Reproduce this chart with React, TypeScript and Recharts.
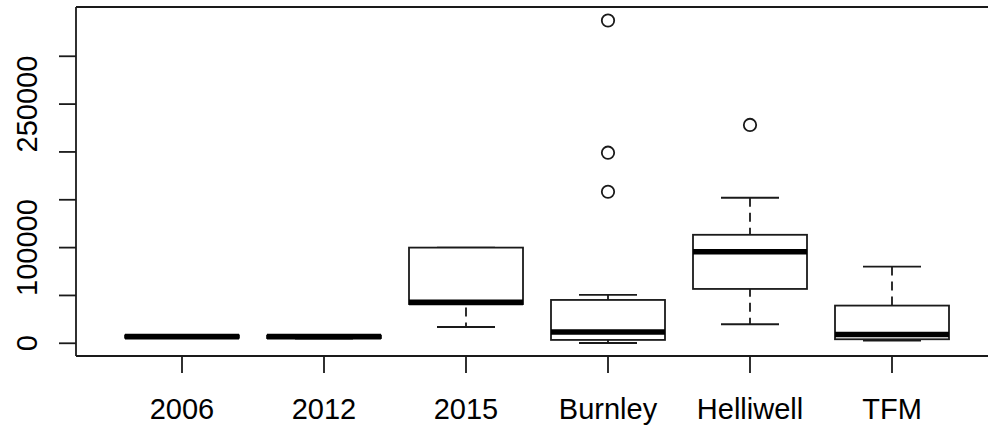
import React from "react"
import { ComposedChart, Bar, Scatter, XAxis, YAxis } from "recharts"

// values
const categories = ["2006", "2012", "2015", "Burnley", "Helliwell", "TFM"]
const lowerWhisker = [5500, 5000, 17000, 300, 19900, 2700]
const lowerQuartile = [5800, 5500, 41000, 3500, 56800, 4200]
const medians = [7000, 7000, 42800, 11800, 95600, 9200]
const upperQuartile = [8200, 8000, 100000, 45300, 113400, 39400]
const upperWhisker = [8500, 8500, 100000, 50600, 152100, 80200]
const outliers: number[][] = [[], [], [], [337400, 199200, 158400], [228200], []]

const yTicks = [0, 50000, 100000, 150000, 200000, 250000, 300000]
const yTickLabels = [0, 100000, 250000]

const rows = categories.map((name, i) => ({
  name,
  whisker: [lowerWhisker[i], upperWhisker[i]],
  box: [lowerQuartile[i], upperQuartile[i]],
  median: medians[i],
  o1: outliers[i][0] ?? null,
  o2: outliers[i][1] ?? null,
  o3: outliers[i][2] ?? null,
}))

const INK = "#1a1a1a"
const FONT = "'Liberation Sans', Arial, sans-serif"
const BOX_W = 114
const CAP_W = 58

const Whisker = (props: any) => {
  const { x, y, width, height } = props
  const cx = x + width / 2
  return (
    <g stroke={INK} strokeWidth={1.8}>
      <line x1={cx} y1={y} x2={cx} y2={y + height} strokeDasharray="9 6" />
      <line x1={x} y1={y} x2={x + width} y2={y} />
      <line x1={x} y1={y + height} x2={x + width} y2={y + height} />
    </g>
  )
}

const Box = (props: any) => {
  const { x, y, width, height } = props
  return <rect x={x} y={y} width={width} height={height} fill="#fff" stroke={INK} strokeWidth={1.8} />
}

const Median = (props: any) => {
  const { cx, cy } = props
  return <line x1={cx - BOX_W / 2} y1={cy} x2={cx + BOX_W / 2} y2={cy} stroke="#000" strokeWidth={5.6} />
}

const outlierShape = (key: string) => (props: any) => {
  const { cx, cy, payload } = props
  if (payload == null || payload[key] == null) return <g />
  return <circle cx={cx} cy={cy} r={6.2} fill="none" stroke={INK} strokeWidth={1.8} />
}

const YTick = (props: any) => {
  const { x, y, payload } = props
  if (!yTickLabels.includes(payload.value)) return <g />
  return (
    <text
      x={x}
      y={y}
      transform={`rotate(-90, ${x}, ${y})`}
      textAnchor="middle"
      fontSize={29}
      fontFamily={FONT}
      fill="#000"
    >
      {payload.value}
    </text>
  )
}

export default function App() {
  return (
    <div
      style={{
        position: "fixed",
        left: 0,
        top: 0,
        width: 988,
        height: 427,
        overflow: "hidden",
        background: "#fff",
      }}
    >
      <ComposedChart
        width={1000}
        height={427}
        data={rows}
        margin={{ top: 6, right: 3, left: 0, bottom: 0 }}
      >
        <XAxis
          xAxisId="w"
          dataKey="name"
          type="category"
          orientation="top"
          height={1}
          tick={false}
          tickLine={false}
          axisLine={{ stroke: INK, strokeWidth: 1.8 }}
          padding={{ left: 35, right: 34 }}
        />
        <XAxis
          xAxisId="b"
          dataKey="name"
          type="category"
          height={71}
          tickSize={17}
          tickMargin={25}
          tickLine={{ stroke: INK, strokeWidth: 1.8 }}
          axisLine={{ stroke: INK, strokeWidth: 1.8 }}
          tick={{ fontSize: 29, fontFamily: FONT, fill: "#000" }}
          padding={{ left: 35, right: 34 }}
          interval={0}
        />
        <YAxis
          type="number"
          domain={[-13300, 351500]}
          ticks={yTicks}
          width={76}
          tickSize={17}
          tickMargin={22}
          tickLine={{ stroke: INK, strokeWidth: 1.8 }}
          axisLine={{ stroke: INK, strokeWidth: 1.8 }}
          tick={<YTick />}
          interval={0}
        />
        <Bar
          xAxisId="w"
          dataKey="whisker"
          barSize={CAP_W}
          shape={<Whisker />}
          isAnimationActive={false}
        />
        <Bar
          xAxisId="b"
          dataKey="box"
          barSize={BOX_W}
          shape={<Box />}
          isAnimationActive={false}
        />
        <Scatter xAxisId="b" dataKey="median" shape={<Median />} isAnimationActive={false} />
        <Scatter xAxisId="b" dataKey="o1" shape={outlierShape("o1")} isAnimationActive={false} />
        <Scatter xAxisId="b" dataKey="o2" shape={outlierShape("o2")} isAnimationActive={false} />
        <Scatter xAxisId="b" dataKey="o3" shape={outlierShape("o3")} isAnimationActive={false} />
      </ComposedChart>
    </div>
  )
}
